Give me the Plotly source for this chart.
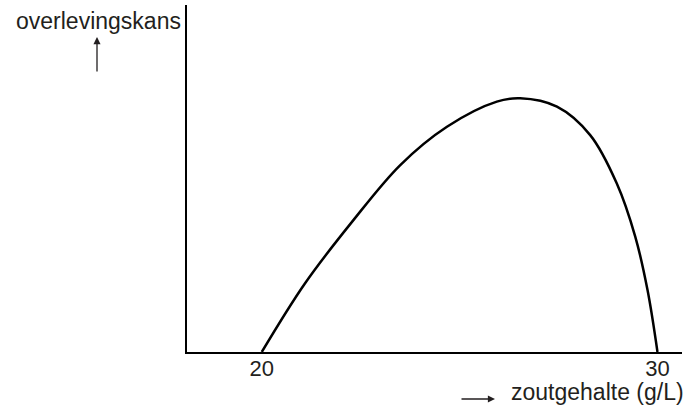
import plotly.graph_objects as go

# zoutgehalte (g/L) en relatieve overlevingskans
zoutgehalte = [20.00, 21.09, 22.28, 23.50, 24.68, 25.94, 26.53, 27.46,
               28.30, 28.97, 29.44, 29.75, 30.00]
overlevingskans = [0, 27.0, 51.3, 73.7, 88.8, 98.7, 100, 96.7,
                   85.5, 66.5, 45.4, 24.3, 0]

tick_waarden = [20, 30]
tick_labels = ["20", "30"]

FONT = "Liberation Sans, Arial, Helvetica, sans-serif"
TEKST = "#231f20"

fig = go.Figure()

fig.add_trace(go.Scatter(
    x=zoutgehalte,
    y=overlevingskans,
    mode="lines",
    line=dict(color="black", width=2.5, shape="spline", smoothing=1.0),
    showlegend=False,
    hoverinfo="skip",
))

# plot area: x 187..682 px, y 5..352 px
W, H = 687, 414
L, R, T, B = 187, 5, 5, 62

def px(x):
    return (x - L) / (W - L - R)

def py(y):
    return (H - B - y) / (H - B - T)

annotaties = [
    dict(text="overlevingskans", x=px(183), y=py(21), xanchor="right", yanchor="middle"),
    dict(text="zoutgehalte (g/L)", x=px(686), y=py(392), xanchor="right", yanchor="middle"),
]
for a in annotaties:
    fig.add_annotation(xref="paper", yref="paper", showarrow=False,
                       font=dict(family=FONT, size=23, color=TEKST), **a)

# pijltjes bij de assen
fig.add_annotation(xref="paper", yref="paper", x=px(97), y=py(37), text="",
                   showarrow=True, ax=0, ay=36, arrowhead=2, arrowsize=1.1,
                   arrowwidth=1.3, arrowcolor=TEKST)
fig.add_annotation(xref="paper", yref="paper", x=px(495), y=py(399), text="",
                   showarrow=True, ax=-35, ay=0, arrowhead=2, arrowsize=1.1,
                   arrowwidth=1.3, arrowcolor=TEKST)

fig.update_layout(
    width=W, height=H,
    margin=dict(l=L, r=R, t=T, b=B, pad=0),
    paper_bgcolor="white",
    plot_bgcolor="white",
    font=dict(family=FONT, size=23, color=TEKST),
    xaxis=dict(
        range=[18.11, 30.62],
        tickvals=tick_waarden,
        ticktext=tick_labels,
        showgrid=False, zeroline=False,
        showline=True, linecolor="black", linewidth=2,
        ticks="", tickfont=dict(family=FONT, size=22, color=TEKST),
        ticklabelstandoff=-4,
        fixedrange=True,
    ),
    yaxis=dict(
        range=[0, 136.8],
        showticklabels=False,
        showgrid=False, zeroline=False,
        showline=True, linecolor="black", linewidth=2,
        ticks="",
        fixedrange=True,
    ),
)

fig.write_html("out.html", config={"displayModeBar": False},
               post_script="document.body.style.margin='0';")
